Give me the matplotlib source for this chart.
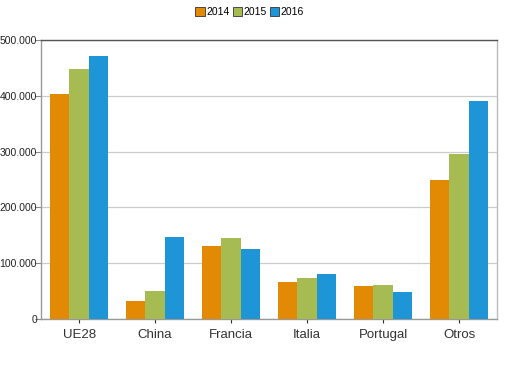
import numpy as np
import matplotlib.pyplot as plt
from matplotlib.ticker import FuncFormatter

# === DATA ===
categories = ["UE28", "China", "Francia", "Italia", "Portugal", "Otros"]
years = ["2014", "2015", "2016"]
v2014 = [403000, 33000, 130000, 67000, 60000, 249000]
v2015 = [448000, 50000, 145000, 74000, 61000, 296000]
v2016 = [471000, 147000, 125000, 80000, 49000, 390000]
yticks = [0, 100000, 200000, 300000, 400000, 500000]

colors = ["#E38A05", "#A6BC52", "#1E95D7"]

plt.rcParams["font.family"] = ["Liberation Sans", "DejaVu Sans"]

fig = plt.figure(figsize=(5.2, 3.74), dpi=100)
ax = fig.add_axes([0.079, 0.147, 0.877, 0.746])

x = np.arange(len(categories))
w = 0.257
series = [v2014, v2015, v2016]
for i, (vals, col, lab) in enumerate(zip(series, colors, years)):
    ax.bar(x + (i - 1) * w, vals, width=w, color=col, label=lab, zorder=3)

ax.set_xlim(-0.5, len(categories) - 0.5)
ax.set_ylim(0, 500000)
ax.set_yticks(yticks)
ax.yaxis.set_major_formatter(FuncFormatter(lambda v, p: f"{int(v):,}".replace(",", ".")))
ax.set_xticks(x)
ax.set_xticklabels(categories, fontsize=9.5, color="#222222")
ax.tick_params(axis="y", labelsize=7.5, colors="#888888", labelcolor="#222222", length=4, width=0.8, pad=-1)
ax.tick_params(axis="x", colors="#333333", length=3, width=0.8, pad=4)

ax.grid(axis="y", color="#cccccc", linewidth=0.9, zorder=0)
ax.spines["left"].set_color("#999999")
ax.spines["bottom"].set_color("#999999")
ax.spines["top"].set_color("#555555")
ax.spines["right"].set_color("#bbbbbb")
for s in ax.spines.values():
    s.set_linewidth(1.0)

leg = fig.legend(loc="upper center", bbox_to_anchor=(0.48, 1.0), ncol=3, frameon=False,
                 fontsize=7.5, handlelength=0.9, handleheight=0.9, handletextpad=0.15,
                 columnspacing=0.3, borderaxespad=0.3)
for h in leg.legend_handles:
    h.set_edgecolor("#333333")
    h.set_linewidth(0.6)

fig.savefig("out.png", dpi=100)
